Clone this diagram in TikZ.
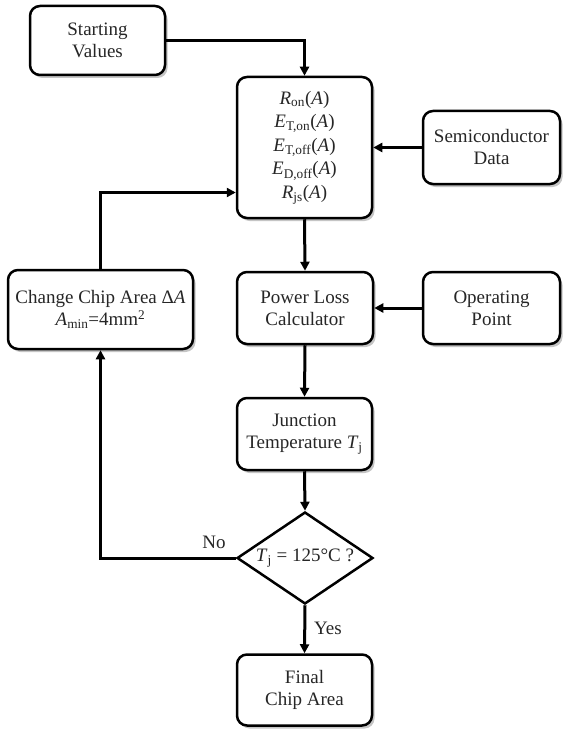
\documentclass[tikz,border=0pt]{standalone}
\usepackage{fontspec}
\setmainfont{Liberation Serif}
\usetikzlibrary{arrows.meta,shapes.geometric,shadows}
\begin{document}
\begin{tikzpicture}[x=1pt,y=-1pt,
  every node/.style={font=\fontsize{19}{22}\selectfont, text=black!85},
  box/.style={draw=black, line width=2.5pt, rounded corners=10pt, align=center,
    fill=white, drop shadow={shadow xshift=2.5pt, shadow yshift=-3pt, fill=black!45}},
  arr/.style={line width=3pt, -{Triangle[length=9pt,width=9pt]}},
  plain/.style={line width=3pt}]
\useasboundingbox (0,0) rectangle (577,730);
\fill[white] (0,0) rectangle (577,730);
\node[box, minimum width=135pt, minimum height=69pt] (start) at (97.5,40.5) {Starting\\Values};
\node[box, minimum width=135pt, minimum height=141pt, font=\fontsize{19}{23.5}\selectfont] (param) at (304.5,147.5)
  {\textit{R}\textsubscript{on}(\textit{A})\\
   \textit{E}\textsubscript{T,on}(\textit{A})\\
   \textit{E}\textsubscript{T,off}(\textit{A})\\
   \textit{E}\textsubscript{D,off}(\textit{A})\\
   \textit{R}\textsubscript{js}(\textit{A})};
\node[box, minimum width=137pt, minimum height=73pt] (semi) at (491.5,147.5) {Semiconductor\\Data};
\node[box, minimum width=185pt, minimum height=79pt] (change) at (100.5,309.5) {Change Chip Area Δ\textit{A}\\\textit{A}\textsubscript{min}=4mm\textsuperscript{2}};
\node[box, minimum width=136pt, minimum height=72pt] (power) at (305,308) {Power Loss\\Calculator};
\node[box, minimum width=137pt, minimum height=72pt] (oper) at (491.5,308) {Operating\\Point};
\node[box, minimum width=135pt, minimum height=72pt] (junc) at (304.5,434) {Junction\\Temperature \textit{T}\textsubscript{j}};
\node[draw=black, line width=2.5pt, diamond, aspect=1.48, minimum width=136pt, minimum height=92pt, inner sep=0pt] (dia) at (305,558) {\textit{T}\textsubscript{j} = 125°C ?};
\node[box, minimum width=135pt, minimum height=71pt] (final) at (304.5,690) {Final\\Chip Area};
\node (no) at (214,542) {No};
\node (yes) at (328,628) {Yes};
\draw[arr] (start.east) -| (param.north);
\draw[arr] (semi.west) -- (param.east);
\draw[arr] (param.south) -- (power.north);
\draw[arr] (oper.west) -- (power.east);
\draw[arr] (power.south) -- (junc.north);
\draw[arr] (junc.south) -- (dia.north);
\draw[arr] (dia.west) -| (change.south);
\draw[arr] (change.north) |- ([yshift=-45pt]param.west);
\draw[arr] (dia.south) -- (final.north);
\end{tikzpicture}
\end{document}
